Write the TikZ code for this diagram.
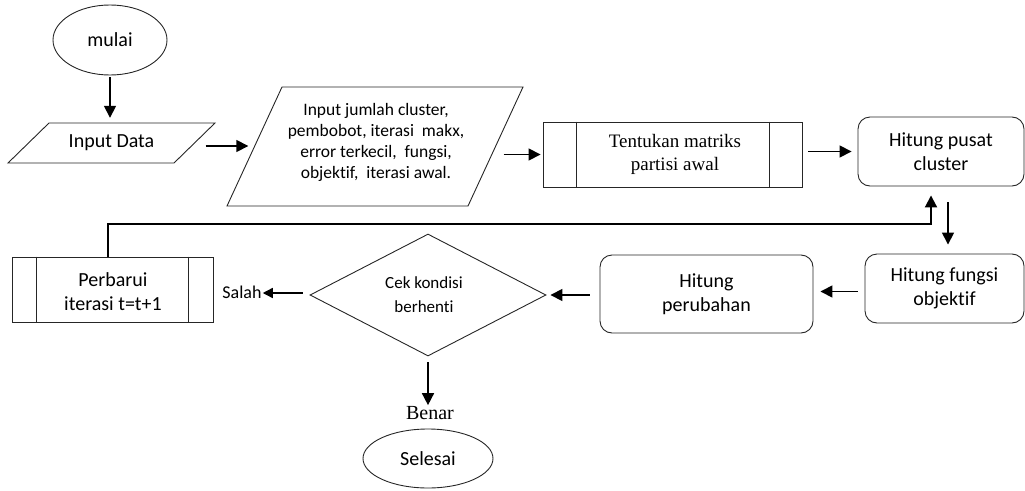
\documentclass[tikz,border=0pt]{standalone}
\usepackage{fontspec}
\setmainfont{Carlito}[Ligatures={NoCommon}]
\newfontfamily\serifrm{Liberation Serif}
\usetikzlibrary{shapes.geometric,arrows.meta}
\begin{document}
\begin{tikzpicture}[x=1pt,y=-1pt,
  txt/.style={font=\fontsize{20}{24}\selectfont, align=center, text=black},
  small/.style={font=\fontsize{17.5}{21}\selectfont, align=center, text=black},
  outl/.style={draw=black!85, line width=0.9pt},
  rbox/.style={outl, rounded corners=12pt, inner sep=0pt, txt},
  pbox/.style={outl, inner sep=0pt},
  arr/.style={-{Triangle[length=12pt,width=12pt]}, line width=1.6pt},
  sarr/.style={-{Triangle[length=10pt,width=10pt]}, line width=1.4pt}
]
\useasboundingbox (0,0) rectangle (1025,490);

% start
\node[ellipse, outl, minimum width=114pt, minimum height=70pt, inner sep=0pt, txt] (mulai) at (110,40) {mulai};

% input data parallelogram
\draw[outl] (49,123) -- (215,123) -- (174,163) -- (8,163) -- cycle;
\node[txt, minimum width=166pt, minimum height=40pt, inner sep=0pt] (indata) at (111.5,143) {Input Data};

% parameter parallelogram
\draw[outl] (282,87) -- (523,87) -- (468,206) -- (227,206) -- cycle;
\node[small, minimum width=241pt, inner sep=0pt] (inpar) at (376,142) {Input jumlah cluster,\\ pembobot, iterasi\ \ makx,\\ error terkecil,\ \ fungsi,\\ objektif,\ \ iterasi awal.};

% predefined process: Tentukan
\node[pbox, minimum width=259pt, minimum height=65pt] (tent) at (672.5,154.5) {};
\draw[outl] ([xshift=34pt]tent.north west) -- ([xshift=34pt]tent.south west);
\draw[outl] ([xshift=-33pt]tent.north east) -- ([xshift=-33pt]tent.south east);
\node[font=\serifrm\fontsize{19}{23}\selectfont, align=center] (tenttxt) at (675,154) {Tentukan matriks\\ partisi awal};

% rounded process boxes
\node[rbox, minimum width=166pt, minimum height=69pt] (pusat) at (941,151.5) {Hitung pusat\\ cluster};
\node[rbox, minimum width=159pt, minimum height=69pt] (fungsi) at (944.5,288.5) {Hitung fungsi\\ objektif};
\node[rbox, minimum width=213pt, minimum height=78pt] (ubah) at (706.5,294) {Hitung\\ perubahan};

% decision
\node[diamond, outl, minimum width=236pt, minimum height=122pt, inner sep=0pt, font=\fontsize{17}{24}\selectfont, align=center] (cek) at (428,295) {};
\node[font=\fontsize{17}{24}\selectfont, align=center] (cektxt) at (424,295) {Cek kondisi\\ berhenti};

% update box
\node[pbox, minimum width=201pt, minimum height=65pt] (perb) at (112.5,289.5) {};
\draw[outl] ([xshift=25pt]perb.north west) -- ([xshift=25pt]perb.south west);
\draw[outl] ([xshift=-25pt]perb.north east) -- ([xshift=-25pt]perb.south east);
\node[txt] (perbtxt) at (113,292) {Perbarui\\ iterasi t=t+1};

% end
\node[ellipse, outl, minimum width=130pt, minimum height=59pt, inner sep=0pt, txt] (selesai) at (428,458.5) {Selesai};

% labels
\node[font=\fontsize{18}{20}\selectfont, inner sep=1pt] (salah) at (242,292) {Salah};
\node[font=\serifrm\fontsize{20}{22}\selectfont, inner sep=1pt] (benar) at (430,413) {Benar};

% connectors
\draw[arr, shorten <=2pt, shorten >=5pt] (mulai.south) -- (mulai.south |- indata.north);
\draw[arr, shorten <=11pt, shorten >=7pt] ([yshift=-3pt]indata.east) -- ([yshift=-3pt]indata.east -| inpar.west);
\draw[arr, shorten <=7pt, shorten >=2pt] (tent.west -| inpar.east) -- (tent.west);
\draw[arr, shorten <=6pt, shorten >=6pt] (tent.east |- pusat.west) -- (pusat.west);
\draw[arr, shorten <=16pt, shorten >=9pt] ([xshift=7pt]pusat.south) -- ([xshift=7pt]pusat.south |- fungsi.north);
\draw[arr, shorten <=7pt, shorten >=7pt] ([yshift=-3pt]fungsi.west) -- ([yshift=-3pt]fungsi.west -| ubah.east);
\draw[arr, shorten <=10pt, shorten >=4pt] ([yshift=-1pt]ubah.west) -- ([yshift=-1pt]ubah.west -| cek.east);
\draw[sarr, shorten <=7pt, shorten >=0pt] ([yshift=2pt]cek.west) -- ([yshift=2pt]cek.west -| salah.east);
\draw[arr, shorten <=6pt, shorten >=0pt] (cek.south) -- (cek.south |- benar.north);
\coordinate (loopc) at (931,224);
\draw[arr, line width=1.9pt, shorten >=9pt] ([xshift=-4.5pt]perb.north) |- (loopc) -- (loopc |- pusat.south);
\end{tikzpicture}
\end{document}
